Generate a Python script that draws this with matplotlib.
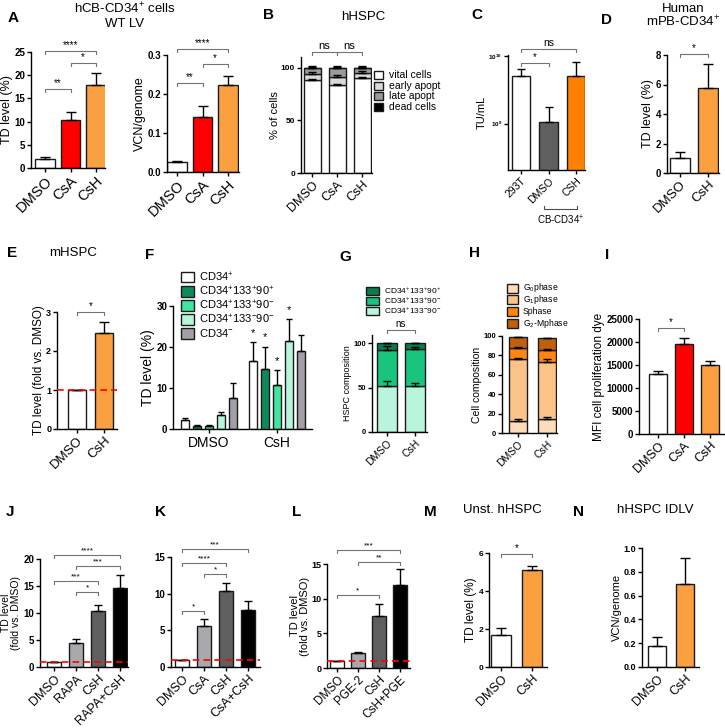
import numpy as np
import matplotlib
matplotlib.use('Agg')
import matplotlib.pyplot as plt
from matplotlib.patches import Rectangle

plt.rcParams['font.family'] = ['Liberation Sans', 'DejaVu Sans']
plt.rcParams['mathtext.default'] = 'regular'
plt.rcParams['axes.linewidth'] = 1.0

# ---------------- data ----------------
a_labels = ['DMSO', 'CsA', 'CsH']
a_td = [2.0, 10.4, 17.8]
a_td_top = [2.3, 12.1, 20.4]
a_vcn = [0.025, 0.142, 0.222]
a_vcn_top = [0.029, 0.168, 0.247]

b_labels = ['DMSO', 'CsA', 'CsH']
b_series = ['vital cells', 'early apopt', 'late apopt', 'dead cells']
b_vital = [88, 83, 90]
b_early = [6, 8, 5]
b_late = [5.5, 8.5, 4.5]
b_dead = [0.5, 0.5, 0.5]

c_labels = ['293T', 'DMSO', 'CSH']
c_tu = [5.1e9, 1.07e9, 5.2e9]
c_tu_top = [6.4e9, 1.78e9, 8.2e9]

d_labels = ['DMSO', 'CsH']
d_td = [1.0, 5.75]
d_td_top = [1.45, 7.4]

e_labels = ['DMSO', 'CsH']
e_fold = [1.0, 2.45]
e_fold_top = [1.0, 2.75]

f_groups = ['DMSO', 'CsH']
f_series = ['CD34$^{+}$', 'CD34$^{+}$133$^{+}$90$^{+}$', 'CD34$^{+}$133$^{+}$90$^{-}$',
            'CD34$^{+}$133$^{-}$90$^{-}$', 'CD34$^{-}$']
f_dmso = [2.1, 0.8, 0.8, 3.3, 7.5]
f_dmso_top = [2.6, 1.0, 1.0, 4.1, 11.2]
f_csh = [16.7, 14.7, 10.8, 21.5, 19.0]
f_csh_top = [21.1, 20.1, 14.4, 26.8, 22.9]
f_star = ['*', '*', '*', '*', '']

g_labels = ['DMSO', 'CsH']
g_series = ['CD34$^{+}$133$^{+}$90$^{+}$', 'CD34$^{+}$133$^{+}$90$^{-}$', 'CD34$^{+}$133$^{-}$90$^{-}$']
g_pale = [52, 52]
g_green = [40, 41]
g_dark = [8, 7]

h_labels = ['DMSO', 'CsH']
h_series = ['G$_0$phase', 'G$_1$phase', 'Sphase', 'G$_2$-Mphase']
h_g0 = [12, 14]
h_g1 = [64, 59]
h_s = [12, 13]
h_g2m = [10.5, 11.5]

i_labels = ['DMSO', 'CsA', 'CsH']
i_mfi = [13000, 19600, 14900]
i_mfi_top = [13700, 20800, 15800]

j_labels = ['DMSO', 'RAPA', 'CsH', 'RAPA+CsH']
j_fold = [1.0, 4.5, 10.3, 14.6]
j_fold_top = [1.0, 5.1, 11.5, 17.0]

k_labels = ['DMSO', 'CsA', 'CsH', 'CsA+CsH']
k_fold = [1.0, 5.6, 10.3, 7.8]
k_fold_top = [1.0, 6.6, 11.5, 9.0]

l_labels = ['DMSO', 'PGE-2', 'CsH', 'CsH+PGE']
l_fold = [1.0, 2.15, 7.55, 12.0]
l_fold_top = [1.0, 2.25, 9.2, 14.3]

m_labels = ['DMSO', 'CsH']
m_td = [1.7, 5.1]
m_td_top = [2.05, 5.3]

n_labels = ['DMSO', 'CsH']
n_vcn = [0.18, 0.70]
n_vcn_top = [0.25, 0.92]

# colours
WHITE = 'white'
RED = '#ff0000'
ORANGE = '#fba040'
ORANGE2 = '#ff8000'
DGRAY = '#5f5f5f'
LGRAY = '#a9a9ad'
EDGE = '#1a1a1a'

W, H = 725, 728
fig = plt.figure(figsize=(W / 100, H / 100), dpi=100)


def new_ax(x0, x1, ytop, ybot, c0, c1, n):
    ax = fig.add_axes([x0 / W, 1 - ybot / H, (x1 - x0) / W, (ybot - ytop) / H])
    u = (c1 - c0) / (n - 1)
    ax.set_xlim((x0 - c0) / u, (x1 - c0) / u)
    ax.spines[['top', 'right']].set_visible(False)
    ax.tick_params(direction='out', length=3, width=1, pad=1.2)
    return ax


def style(ax, ylim, yticks, ytl_fs, xlabels, xl_fs, ylabel=None, yl_fs=9, rot=45):
    ax.set_ylim(*ylim)
    ax.set_yticks(yticks)
    for t in ax.get_yticklabels():
        t.set_fontweight('bold')
        t.set_fontsize(ytl_fs)
    ax.set_xticks(range(len(xlabels)))
    if rot:
        ax.set_xticklabels(xlabels, fontsize=xl_fs, rotation=rot, ha='right',
                           rotation_mode='anchor')
    else:
        ax.set_xticklabels(xlabels, fontsize=xl_fs)
    if ylabel:
        ax.set_ylabel(ylabel, fontsize=yl_fs, labelpad=1, linespacing=1.0)


def bars(ax, vals, tops, colors, width, cap=3.5):
    x = np.arange(len(vals))
    ax.bar(x, vals, width, color=colors, edgecolor=EDGE, linewidth=1, zorder=2)
    up = np.array(tops) - np.array(vals)
    ax.errorbar(x, vals, yerr=[np.zeros(len(vals)), up], fmt='none', ecolor='black',
                elinewidth=1, capsize=cap, capthick=1, zorder=3)


def bracket(ax, i, j, y, txt, fs=7, drop_px=3, color='0.45'):
    y0, y1 = ax.get_ylim()
    hpx = ax.get_position().height * H
    if ax.get_yscale() == 'log':
        f = 10 ** (drop_px * (np.log10(y1) - np.log10(y0)) / hpx)
        ylo, ytx = y / f, y * f ** 0.3
    else:
        d = drop_px * (y1 - y0) / hpx
        ylo, ytx = y - d, y + d * 0.3
    ax.plot([i, i, j, j], [ylo, y, y, ylo], color=color, lw=0.8, clip_on=False)
    ax.text((i + j) / 2, ytx, txt, ha='center', va='bottom', fontsize=fs, clip_on=False)


def stacked(ax, segs, tops_err, colors, width, cap=3.5):
    x = np.arange(len(segs[0]))
    bottom = np.zeros(len(x))
    for seg, err, col in zip(segs, tops_err, colors):
        seg = np.array(seg, dtype=float)
        ax.bar(x, seg, width, bottom=bottom, color=col, edgecolor=EDGE, linewidth=1, zorder=2)
        top = bottom + seg
        ax.errorbar(x, top, yerr=[np.zeros(len(x)), np.array(err)], fmt='none', ecolor='black',
                    elinewidth=1, capsize=cap, capthick=1, zorder=3)
        bottom = top


def legend_box(x, y0, pitch, bw, bh, labels, colors, fs, gap=5):
    for k, (lab, col) in enumerate(zip(labels, colors)):
        yc = y0 + k * pitch
        fig.add_artist(Rectangle((x / W, 1 - (yc + bh / 2) / H), bw / W, bh / H,
                                 transform=fig.transFigure, facecolor=col,
                                 edgecolor=EDGE, linewidth=1))
        fig.text((x + bw + gap) / W, 1 - yc / H, lab, fontsize=fs, va='center', ha='left')


def label(x, y, s, fs=11, bold=True):
    fig.text(x / W, 1 - y / H, s, fontsize=fs, fontweight='bold' if bold else 'normal',
             ha='center', va='center')


def redline(ax):
    ax.axhline(1, color='red', lw=1.2, ls=(0, (4, 2.5)), zorder=4, clip_on=False)


# ---------------- A ----------------
label(13, 18, 'A')
label(125, 9, 'hCB-CD34$^{+}$ cells', 9.5, False)
label(125, 24, 'WT LV', 9.5, False)
ax = new_ax(31, 105, 52, 168, 45, 96, 3)
style(ax, (0, 25), range(0, 26, 5), 7, a_labels, 10.5, 'TD level (%)', 9)
bars(ax, a_td, a_td_top, [WHITE, RED, ORANGE], 0.75)
bracket(ax, 0, 2, 25.3, '****')
bracket(ax, 1, 2, 22.6, '*')
bracket(ax, 0, 1, 17.0, '**')

ax = new_ax(167, 239, 55, 172, 177, 228, 3)
style(ax, (0, 0.3), [0, 0.1, 0.2, 0.3], 7, a_labels, 10.5, 'VCN/genome', 9)
ax.set_yticklabels(['0.0', '0.1', '0.2', '0.3'], fontweight='bold', fontsize=7)
bars(ax, a_vcn, a_vcn_top, [WHITE, RED, ORANGE], 0.75)
bracket(ax, 0, 2, 0.315, '****')
bracket(ax, 1, 2, 0.277, '*')
bracket(ax, 0, 1, 0.228, '**')

# ---------------- B ----------------
label(269, 15, 'B')
label(363, 17, 'hHSPC', 9.5, False)
ax = new_ax(301, 372, 57, 173, 312, 362, 3)
style(ax, (0, 110), [0, 50, 100], 6, b_labels, 9, '% of cells', 8)
b_cols = ['white', '#d9d9d9', '#9b9b9b', 'black']
stacked(ax, [b_vital, b_early, b_late, b_dead], [[1.5] * 3, [1.5] * 3, [1.5] * 3, [0.5] * 3],
        b_cols, 0.68, cap=3)
bracket(ax, 0, 1, 115, 'ns', 8)
bracket(ax, 1, 2, 115, 'ns', 8)
legend_box(374, 75, 10.7, 9, 8, b_series, b_cols, 7.5, gap=6)

# ---------------- C ----------------
label(477, 15, 'C')
ax = new_ax(508, 585, 55, 170, 521, 576, 3)
ax.set_yscale('log')
style(ax, (2.04e8, 1.05e10), [1e9, 1e10], 4.5, c_labels, 7.5, 'TU/mL', 8)
ax.minorticks_off()
ax.set_yticks([1e9, 1e10])
ax.set_yticklabels(['$10^{9}$', '$10^{10}$'], fontsize=4.5, fontweight='bold')
bars(ax, c_tu, c_tu_top, [WHITE, DGRAY, ORANGE2], 0.69, cap=3)
bracket(ax, 0, 2, 1.3e10, 'ns', 7.5)
bracket(ax, 0, 1, 8.1e9, '*', 7)
tr = ax.get_xaxis_transform()
ax.plot([0.85, 0.85, 2.05, 2.05], [-0.31, -0.34, -0.34, -0.31], color='0.3', lw=0.8,
        transform=tr, clip_on=False)
ax.text(1.45, -0.44, 'CB-CD34$^{+}$', transform=tr, fontsize=7, ha='center', va='center')

# ---------------- D ----------------
label(607, 20, 'D')
label(683, 9, 'Human', 9.5, False)
label(683, 22, 'mPB-CD34$^{+}$', 9.5, False)
ax = new_ax(667, 719, 55, 173, 680, 708, 2)
style(ax, (0, 8), [0, 2, 4, 6, 8], 7, d_labels, 9.5, 'TD level (%)', 9)
bars(ax, d_td, d_td_top, [WHITE, ORANGE], 0.71)
bracket(ax, 0, 1, 8.1, '*')

# ---------------- E ----------------
label(12, 253, 'E')
label(73, 253, 'mHSPC', 9.5, False)
ax = new_ax(57, 117, 312, 429, 77, 104, 2)
style(ax, (0, 3), [0, 1, 2, 3], 6.5, e_labels, 9.5, 'TD level (fold vs. DMSO)', 8.5)
bars(ax, e_fold, e_fold_top, [WHITE, ORANGE], 0.7)
redline(ax)
bracket(ax, 0, 1, 3.0, '*')

# ---------------- F ----------------
label(150, 255, 'F')
ax = new_ax(173, 312, 306, 429, 209, 277, 2)
style(ax, (0, 30), [0, 10, 20, 30], 7, f_groups, 10, 'TD level (%)', 10, rot=0)
f_cols = ['white', '#0e8a5a', '#3fe6a2', '#b6f5da', '#a0a0a6']
for k in range(5):
    off = (k - 2) * 0.176
    xs = np.array([0, 1]) + off
    vals = np.array([f_dmso[k], f_csh[k]])
    tops = np.array([f_dmso_top[k], f_csh_top[k]])
    ax.bar(xs, vals, 0.13, color=f_cols[k], edgecolor=EDGE, linewidth=1, zorder=2)
    ax.errorbar(xs, vals, yerr=[np.zeros(2), tops - vals], fmt='none', ecolor='black',
                elinewidth=1, capsize=2.5, capthick=1, zorder=3)
    if f_star[k]:
        ax.text(1 + off, f_csh_top[k] + 1.0, f_star[k], ha='center', va='bottom',
                fontsize=8, clip_on=False)
ax.tick_params(axis='x', pad=2)
legend_box(181, 277, 14, 13, 11, f_series, f_cols, 8)

# ---------------- G ----------------
label(345, 257, 'G')
ax = new_ax(372, 427, 335, 432, 387, 415, 2)
style(ax, (0, 109), [0, 50, 100], 5.5, g_labels, 7.5, 'HSPC composition', 6.5)
g_cols = ['#b9f5dc', '#19c47e', '#0b7a4c']
stacked(ax, [g_pale, g_green, g_dark], [[5.5, 3.5], [5, 3], [0.5, 0.5]], g_cols, 0.71, cap=3)
bracket(ax, 0, 1, 115, 'ns', 7)
legend_box(366, 291, 10, 13, 8, g_series, g_cols[::-1], 6)

# ---------------- H ----------------
label(475, 253, 'H')
ax = new_ax(502, 557, 336, 433, 518, 547, 2)
style(ax, (0, 100), range(0, 101, 20), 5.5, h_labels, 7.5, 'Cell composition', 7.5)
h_cols = ['#fddcbc', '#fcc389', '#ff8410', '#c0600c']
stacked(ax, [h_g0, h_g1, h_s, h_g2m], [[2, 3], [1.5, 3.5], [1, 1], [0.3, 0.5]], h_cols, 0.64, cap=3)
legend_box(507, 288, 11.7, 11, 9, h_series, h_cols, 6.2)

# ---------------- I ----------------
label(607, 255, 'I')
ax = new_ax(639, 724, 319, 434, 658, 710, 3)
style(ax, (0, 25000), range(0, 25001, 5000), 7, i_labels, 9, 'MFI cell proliferation dye', 8.5)
bars(ax, i_mfi, i_mfi_top, [WHITE, RED, ORANGE], 0.67)
bracket(ax, 0, 1, 23000, '*')

# ---------------- J ----------------
label(10, 512, 'J')
ax = new_ax(40, 128, 559, 667, 54, 120, 4)
style(ax, (0, 20), range(0, 21, 5), 7, j_labels, 9, 'TD level\n(fold vs. DMSO)', 7.5)
ax.yaxis.set_label_coords(-0.215, 0.5)
bars(ax, j_fold, j_fold_top, [WHITE, LGRAY, DGRAY, 'black'], 0.68, cap=3)
redline(ax)
bracket(ax, 0, 3, 20.7, '****', 6)
bracket(ax, 1, 3, 18.7, '***', 6)
bracket(ax, 0, 2, 15.9, '***', 6)
bracket(ax, 1, 2, 13.9, '*', 6)

# ---------------- K ----------------
label(160, 512, 'K')
ax = new_ax(171, 260, 557, 667, 182, 248, 4)
style(ax, (0, 15), [0, 5, 10, 15], 7, k_labels, 9)
bars(ax, k_fold, k_fold_top, [WHITE, LGRAY, DGRAY, 'black'], 0.68, cap=3)
redline(ax)
bracket(ax, 0, 3, 16.1, '***', 6)
bracket(ax, 0, 2, 14.2, '****', 6)
bracket(ax, 1, 2, 12.7, '*', 6)
bracket(ax, 0, 1, 7.6, '*', 6)

# ---------------- L ----------------
label(297, 512, 'L')
ax = new_ax(327, 410, 564, 668, 337, 400, 4)
style(ax, (0, 15), [0, 5, 10, 15], 6.5, l_labels, 8.5, 'TD level\n(fold vs. DMSO)', 8)
bars(ax, l_fold, l_fold_top, [WHITE, LGRAY, DGRAY, 'black'], 0.68, cap=3)
redline(ax)
bracket(ax, 0, 3, 17.0, '***', 6)
bracket(ax, 1, 3, 15.3, '**', 6)
bracket(ax, 0, 2, 10.5, '*', 6)

# ---------------- M ----------------
label(430, 512, 'M')
label(502, 510, 'Unst. hHSPC', 9.5, False)
ax = new_ax(489, 547, 553, 667, 501, 532, 2)
style(ax, (0, 6), [0, 2, 4, 6], 6, m_labels, 9, 'TD level (%)', 8.5)
bars(ax, m_td, m_td_top, [WHITE, ORANGE], 0.65)
bracket(ax, 0, 1, 5.95, '*')

# ---------------- N ----------------
label(579, 512, 'N')
label(655, 510, 'hHSPC IDLV', 9.5, False)
ax = new_ax(642, 699, 548, 667, 657, 685, 2)
style(ax, (0, 1.0), [0, 0.2, 0.4, 0.6, 0.8, 1.0], 6.5, n_labels, 9, 'VCN/genome', 8)
ax.set_yticklabels(['0.0', '0.2', '0.4', '0.6', '0.8', '1.0'], fontweight='bold', fontsize=6.5)
bars(ax, n_vcn, n_vcn_top, [WHITE, ORANGE], 0.66)

fig.savefig('out.png', dpi=100)
